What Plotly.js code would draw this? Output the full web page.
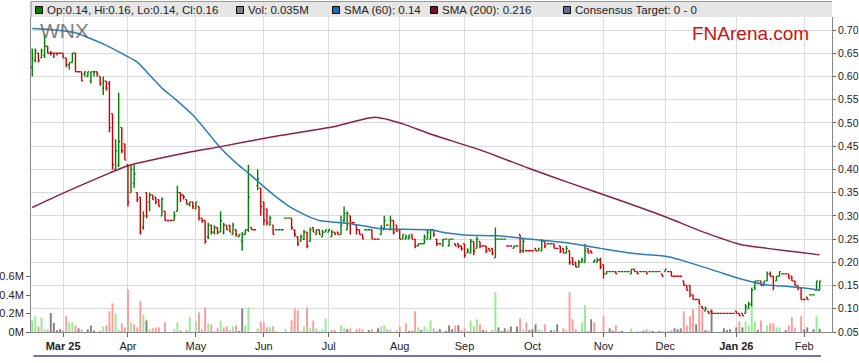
<!DOCTYPE html>
<html><head><meta charset="utf-8">
<script src="https://cdn.plot.ly/plotly-3.0.1.min.js"></script>
<style>html,body{margin:0;padding:0;background:#fff}#chart{width:859px;height:363px}</style>
</head><body><div id="chart"></div>
<script>
// ---- data ----
const START_DATE = '2025-02-17'; // first trading day shown (weekdays only)
const OPEN = [
.62,.635,.65,.64,.645,.665,.65,.65,.65,.65,
.65,.64,.625,.63,.65,.61,.61,.605,.60,.59,
.61,.61,.60,.575,.59,.585,.52,.40,.41,.49,
.455,.41,.35,.37,.35,.34,.275,.35,.33,.345,
.34,.335,.30,.31,.29,.29,.29,.31,.35,.345,
.335,.325,.33,.315,.32,.295,.29,.255,.28,.265,
.275,.265,.265,.28,.28,.26,.27,.255,.245,.26,
.27,.275,.27,.365,.36,.33,.315,.28,.28,.27,
.27,.27,.295,.295,.295,.27,.255,.245,.25,.265,
.245,.275,.26,.27,.255,.265,.265,.255,.265,.265,
.26,.29,.27,.30,.285,.28,.27,.26,.27,.27,
.27,.25,.25,.26,.27,.28,.27,.29,.28,.27,
.25,.25,.25,.26,.25,.235,.24,.24,.25,.25,
.27,.25,.24,.235,.25,.235,.25,.24,.24,.235,
.24,.22,.22,.245,.23,.245,.235,.235,.23,.23,
.21,.25,.25,.25,.235,.235,.23,.235,.26,.225,
.225,.225,.225,.23,.225,.225,.245,.24,.24,.24,
.23,.235,.23,.22,.225,.21,.20,.19,.20,.20,
.23,.225,.20,.20,.205,.195,.175,.18,.18,.18,
.18,.18,.18,.18,.175,.185,.18,.18,.18,.18,
.18,.18,.18,.18,.175,.18,.18,.18,.17,.17,
.17,.16,.15,.15,.13,.12,.12,.105,.095,.095,
.095,.09,.09,.09,.09,.09,.09,.09,.095,.09,
.09,.09,.10,.11,.145,.16,.16,.15,.16,.175,
.17,.16,.17,.175,.175,.175,.17,.16,.15,.145,
.12,.125,.13,.13,.14,.14];
const HIGH = [
.66,.66,.65,.66,.69,.665,.655,.65,.65,.65,
.65,.64,.63,.65,.65,.61,.61,.61,.61,.61,
.61,.61,.60,.60,.59,.59,.52,.465,.565,.49,
.455,.41,.41,.41,.35,.34,.31,.35,.35,.345,
.34,.335,.34,.31,.29,.29,.31,.365,.35,.345,
.335,.33,.33,.33,.32,.295,.29,.285,.28,.28,
.275,.31,.285,.28,.28,.285,.27,.26,.265,.27,
.41,.275,.27,.40,.36,.33,.315,.30,.28,.27,
.27,.27,.295,.295,.295,.27,.255,.26,.27,.265,
.275,.275,.27,.27,.27,.27,.27,.27,.265,.265,
.30,.32,.31,.30,.285,.28,.27,.26,.27,.27,
.27,.25,.25,.28,.30,.28,.30,.29,.28,.27,
.26,.26,.26,.26,.25,.24,.24,.26,.27,.27,
.27,.25,.24,.25,.25,.25,.25,.24,.24,.235,
.24,.23,.25,.245,.255,.245,.235,.235,.23,.23,
.275,.25,.25,.25,.235,.235,.235,.235,.26,.25,
.225,.225,.225,.23,.23,.25,.245,.24,.24,.24,
.23,.235,.23,.235,.225,.21,.20,.205,.21,.24,
.23,.225,.205,.21,.21,.195,.18,.18,.18,.18,
.18,.18,.18,.18,.185,.185,.18,.18,.18,.18,
.18,.18,.18,.18,.175,.185,.18,.18,.17,.17,
.17,.16,.15,.15,.13,.12,.12,.105,.105,.095,
.095,.09,.09,.09,.09,.09,.09,.09,.095,.09,
.09,.11,.115,.145,.16,.16,.16,.16,.18,.18,
.17,.17,.18,.175,.175,.175,.17,.16,.15,.145,
.12,.125,.13,.13,.16,.16];
const LOW = [
.60,.63,.63,.64,.64,.65,.645,.64,.645,.65,
.64,.62,.615,.63,.61,.61,.59,.60,.60,.585,
.60,.60,.58,.56,.57,.48,.40,.40,.405,.435,
.42,.32,.35,.36,.33,.26,.27,.295,.31,.335,
.325,.32,.30,.29,.29,.29,.29,.31,.33,.335,
.325,.32,.315,.315,.29,.285,.24,.25,.26,.26,
.26,.265,.26,.27,.265,.26,.255,.255,.225,.26,
.265,.27,.27,.355,.30,.28,.28,.28,.26,.27,
.27,.27,.295,.295,.27,.255,.235,.245,.248,.23,
.245,.265,.26,.26,.255,.265,.265,.255,.26,.26,
.26,.285,.27,.26,.285,.26,.26,.25,.27,.27,
.25,.25,.25,.26,.27,.28,.27,.26,.265,.25,
.25,.25,.25,.25,.23,.235,.24,.24,.25,.25,
.255,.235,.24,.235,.25,.235,.25,.235,.23,.225,
.21,.22,.22,.215,.23,.23,.235,.22,.225,.215,
.21,.25,.25,.25,.235,.235,.23,.235,.22,.22,
.225,.225,.225,.225,.225,.225,.23,.24,.24,.23,
.23,.22,.22,.22,.195,.195,.19,.19,.20,.20,
.22,.22,.20,.20,.185,.165,.175,.18,.18,.175,
.18,.18,.18,.18,.175,.18,.175,.18,.18,.175,
.18,.18,.18,.18,.17,.18,.18,.17,.17,.17,
.17,.15,.14,.125,.12,.12,.11,.10,.095,.09,
.09,.09,.09,.09,.09,.09,.09,.09,.09,.085,
.085,.09,.10,.105,.14,.16,.15,.15,.16,.17,
.14,.16,.17,.175,.175,.165,.16,.15,.14,.12,
.12,.12,.13,.13,.14,.14];
const CLOSE = [
.64,.655,.635,.655,.665,.65,.65,.65,.65,.65,
.64,.625,.63,.65,.61,.61,.59,.61,.61,.61,
.61,.605,.585,.59,.575,.49,.41,.44,.46,.44,
.42,.33,.40,.39,.335,.265,.30,.30,.345,.335,
.33,.32,.335,.29,.29,.29,.30,.35,.345,.34,
.325,.33,.32,.33,.295,.29,.245,.28,.265,.275,
.265,.29,.28,.27,.265,.28,.26,.26,.26,.27,
.34,.27,.27,.38,.32,.29,.285,.295,.26,.27,
.27,.27,.295,.295,.275,.26,.24,.255,.265,.235,
.27,.265,.27,.26,.265,.27,.27,.265,.26,.26,
.28,.305,.305,.285,.285,.27,.26,.25,.27,.27,
.25,.25,.25,.275,.29,.28,.29,.265,.27,.25,
.26,.255,.255,.25,.235,.24,.24,.255,.265,.27,
.26,.24,.24,.25,.25,.25,.25,.235,.235,.23,
.215,.225,.245,.225,.25,.235,.235,.225,.225,.22,
.25,.25,.25,.25,.235,.235,.235,.235,.225,.245,
.225,.225,.225,.225,.23,.245,.235,.24,.24,.23,
.23,.225,.22,.23,.20,.195,.19,.20,.205,.225,
.22,.22,.205,.205,.19,.175,.18,.18,.18,.175,
.18,.18,.18,.18,.185,.18,.175,.18,.18,.175,
.18,.18,.18,.18,.17,.185,.18,.17,.17,.17,
.17,.15,.14,.13,.12,.12,.11,.10,.10,.09,
.09,.09,.09,.09,.09,.09,.09,.09,.09,.085,
.085,.105,.11,.14,.16,.16,.15,.16,.175,.17,
.15,.17,.18,.175,.175,.165,.16,.15,.145,.12,
.12,.12,.13,.13,.16,.16];
const VOLUME_M = [
.133,.17,.06,.155,.03,.03,.205,.097,.02,.03,
.02,.17,.105,.105,.072,.04,.03,0,.03,.07,
.015,0,.015,.06,.072,.223,.31,.2,.02,.094,
.05,.46,.105,.083,.05,.33,.19,.125,.03,.04,
.05,.05,0,.105,0,0,.03,.105,.02,0,
.02,.16,0,.115,.21,.03,.265,.094,.083,.01,
.04,.125,.05,.06,.02,.06,.072,.01,.255,.072,
.265,0,0,.04,.115,.105,.05,.05,.06,.015,
0,0,.03,0,.125,.255,.235,.01,.06,.265,
.04,.125,.04,.01,.03,.147,0,.02,.02,0,
.072,.04,.03,.04,0,.03,.04,.03,0,.02,
.03,0,.04,.06,.072,.03,.03,0,.02,.06,
0,.094,.01,.02,.223,.05,.02,.06,.03,.125,
.04,.01,.03,0,.01,.072,.03,.072,.072,.02,
.04,.01,.125,.06,.137,.083,.02,.02,0,.02,
.43,.05,.01,.04,.02,.06,0,.06,.147,.03,
.105,.02,.03,.083,.03,.02,.083,0,.02,.02,
.083,0,.04,.02,.43,.137,.03,.01,.105,.288,
.01,.137,.105,0,0,.17,0,.04,.015,.072,
.01,.01,0,0,.04,0,.01,.01,.015,.03,
.02,.01,0,.01,.01,.01,.01,.02,.04,.03,
.04,.223,.072,.17,.245,.083,.288,.235,.02,.02,
.245,0,0,0,.04,.02,.03,0,.05,.115,
.05,.115,.072,.28,.115,.02,.125,.01,.072,.094,
.094,.05,.05,0,.02,.072,.16,.04,0,.17,
.03,.05,0,.03,.17,.035];
// moving averages sampled along the curves (trading-day index, value)
const SMA60_DAY = [0,9,14,18,24,30,34,38,42,46,52,58,61,66,70,75,79,84,89,93,97,106,112,120,129,132,140,151,161,173,184,195,206,212,222,227,233,238,243,249,255];
const SMA60_VAL = [0.703,0.699,0.694,0.684,0.667,0.646,0.631,0.603,0.575,0.553,0.517,0.470,0.446,0.414,0.392,0.363,0.341,0.317,0.300,0.290,0.287,0.280,0.273,0.271,0.270,0.266,0.259,0.257,0.250,0.242,0.230,0.219,0.212,0.201,0.180,0.169,0.158,0.151,0.149,0.145,0.140];
const SMA200_DAY = [0,10,25,31,50,61,77,97,111,120,129,145,161,174,190,205,217,229,238,249,255];
const SMA200_VAL = [0.318,0.349,0.392,0.408,0.436,0.449,0.469,0.491,0.512,0.498,0.476,0.442,0.402,0.371,0.334,0.298,0.266,0.239,0.230,0.221,0.216];
const MONTH_LABELS = ['<b>Mar 25</b>','Apr','May','Jun','Jul','Aug','Sep','Oct','Nov','Dec','<b>Jan 26</b>','Feb'];
const LEGEND_ITEMS = [
  {text:'Op:0.14, Hi:0.16, Lo:0.14, Cl:0.16', color:'#008000'},
  {text:'Vol: 0.035M', color:'#808080'},
  {text:'SMA (60): 0.14', color:'#1f6fae'},
  {text:'SMA (200): 0.216', color:'#7a1030'},
  {text:'Consensus Target: 0 - 0', color:'#6a6a9a'}
];
const TICKER = 'WNX';
const BRAND = 'FNArena.com';

// ---- build ----
const N = OPEN.length;
const idx = [], dates = [];
{
  let t = Date.parse(START_DATE + 'T00:00:00Z');
  while (dates.length < N) {
    const d = new Date(t); const wd = d.getUTCDay();
    if (wd !== 0 && wd !== 6) { dates.push(d); idx.push(dates.length - 1); }
    t += 86400000;
  }
}
const tickvals = [];
for (let i = 1; i < N; i++) if (dates[i].getUTCMonth() !== dates[i-1].getUTCMonth()) tickvals.push(i);

const volColors = CLOSE.map((c, i) => {
  const p = i === 0 ? OPEN[0] : CLOSE[i-1];
  return c > p ? '#90ee90' : (c < p ? '#ff9a9a' : '#808080');
});

const FONT = 'Arial, "Liberation Sans", sans-serif';
const traces = [
  {type:'bar', x: idx, y: VOLUME_M.map(v => v*1e6), marker:{color: volColors, line:{width:0}},
   width: 0.62, yaxis:'y', xaxis:'x', hoverinfo:'skip', showlegend:false},
  {type:'scatter', mode:'lines', x: SMA60_DAY, y: SMA60_VAL, yaxis:'y2',
   line:{color:'#2a7db9', width:1.5, shape:'spline', smoothing:0.8}, hoverinfo:'skip', showlegend:false},
  {type:'scatter', mode:'lines', x: SMA200_DAY, y: SMA200_VAL, yaxis:'y2',
   line:{color:'#8c1f44', width:1.5, shape:'spline', smoothing:0.6}, hoverinfo:'skip', showlegend:false},
  {type:'ohlc', x: idx, open: OPEN, high: HIGH, low: LOW, close: CLOSE, yaxis:'y2',
   increasing:{line:{color:'#008000', width:1.4}}, decreasing:{line:{color:'#cc0000', width:1.4}},
   tickwidth: 0.45, hoverinfo:'skip', showlegend:false}
];

// pixel helpers for paper coords (plot area: x 31..832, y 17..332)
const PX0 = 31, PW = 801, PY1 = 332, PH = 315;
const px = x => (x - PX0) / PW;
const py = y => (PY1 - y) / PH;

const legX = [35.5, 236.5, 332.5, 430.5, 563.5];
const shapes = [
  {type:'rect', xref:'paper', yref:'paper', x0:0, x1:1, y0:1, y1:py(1.5), fillcolor:'#e6e6e6', line:{width:0}, layer:'below'},
  {type:'line', xref:'paper', yref:'paper', x0:0, x1:1, y0:py(1.5), y1:py(1.5), line:{color:'#9a9a9a', width:1}},
  {type:'line', xref:'paper', yref:'paper', x0:0, x1:0, y0:1, y1:py(1.5), line:{color:'#888', width:1}},
  {type:'line', xref:'x', yref:'paper', x0:0.4, x1:255.4, y0:py(356), y1:py(356), line:{color:'#7272a2', width:2}}
];
const annotations = [
  {text: TICKER, xref:'paper', yref:'paper', x:px(64.5), y:py(31), xanchor:'center', yanchor:'middle', showarrow:false,
   font:{family:FONT, size:21, color:'rgba(95,95,95,0.8)'}},
  {text: BRAND, xref:'paper', yref:'paper', x:px(750.5), y:py(33.5), xanchor:'center', yanchor:'middle', showarrow:false,
   font:{family:FONT, size:19, color:'#cc1111'}}
];
LEGEND_ITEMS.forEach((it, k) => {
  shapes.push({type:'rect', xref:'paper', yref:'paper', x0:px(legX[k]), x1:px(legX[k]+7), y0:py(13.5), y1:py(6.5),
    fillcolor: it.color, line:{color:'#000', width:1}});
  annotations.push({text: it.text, xref:'paper', yref:'paper', x:px(legX[k]+9), y:py(10), xanchor:'left', yanchor:'middle',
    showarrow:false, font:{family:FONT, size:11.5, color:'#222'}});
});

const layout = {
  width: 859, height: 363,
  margin: {l:31, r:27, t:17, b:31, pad:0},
  paper_bgcolor:'#fff', plot_bgcolor:'#fff',
  font:{family:FONT, size:11, color:'#333'},
  showlegend:false,
  xaxis: {type:'linear', range:[-0.4, 259], tickvals: tickvals, ticktext: MONTH_LABELS,
    ticks:'outside', ticklen:4, tickcolor:'#666', showgrid:true, gridcolor:'#dadada', gridwidth:1,
    showline:true, linecolor:'#888', linewidth:1, zeroline:false, rangeslider:{visible:false},
    tickfont:{family:FONT, size:11, color:'#222'}, fixedrange:true},
  yaxis: {side:'left', range:[0, 3.405e6], tickvals:[0,2e5,4e5,6e5], ticktext:['0M','0.2M','0.4M','0.6M'],
    ticks:'outside', ticklen:4, tickcolor:'#666', showgrid:false, zeroline:false,
    showline:true, linecolor:'#888', tickfont:{family:FONT, size:11, color:'#222'}},
  yaxis2: {overlaying:'y', side:'right', range:[0.05, 0.728], tick0:0.05, dtick:0.05, tickformat:'.2f',
    ticks:'outside', ticklen:3, tickcolor:'#666', showgrid:true, gridcolor:'#dadada', zeroline:false,
    showline:true, linecolor:'#888', tickfont:{family:FONT, size:10.5, color:'#222'}},
  shapes: shapes,
  annotations: annotations
};
Plotly.newPlot('chart', traces, layout, {displayModeBar:false, staticPlot:true});
</script>
</body></html>
